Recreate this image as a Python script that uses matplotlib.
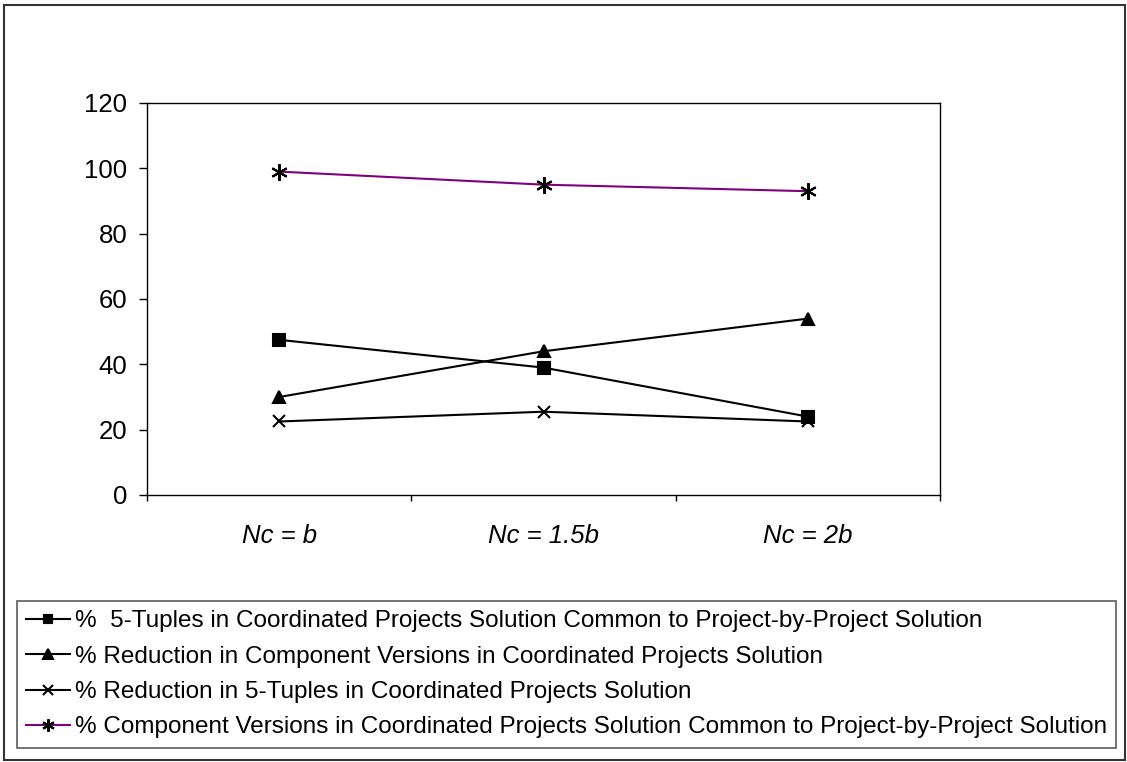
import matplotlib
matplotlib.use("Agg")
import matplotlib.pyplot as plt
from matplotlib.patches import Rectangle

plt.rcParams["font.family"] = ["Liberation Sans", "DejaVu Sans"]

# data
categories = ["Nc = b", "Nc = 1.5b", "Nc = 2b"]
pct_tuples_common = [47.5, 39, 24]
pct_reduction_versions = [30, 44, 54]
pct_reduction_tuples = [22.5, 25.5, 22.5]
pct_versions_common = [99, 95, 93]

labels = [
    "%  5-Tuples in Coordinated Projects Solution Common to Project-by-Project Solution",
    "% Reduction in Component Versions in Coordinated Projects Solution",
    "% Reduction in 5-Tuples in Coordinated Projects Solution",
    "% Component Versions in Coordinated Projects Solution Common to Project-by-Project Solution",
]
y_ticks = [0, 20, 40, 60, 80, 100, 120]

W, H = 1127, 762
fig = plt.figure(figsize=(W / 100, H / 100), dpi=100)
fig.patch.set_facecolor("white")

# outer chart frame
fig.add_artist(Rectangle((4 / W, 1 - 760 / H), 1121 / W, 755 / H,
                         transform=fig.transFigure, fill=False,
                         edgecolor="#333333", linewidth=1.5))

ax = fig.add_axes([147 / W, 1 - 495 / H, 793 / W, 392 / H])

x = list(range(len(categories)))
series = [
    (pct_tuples_common, "s", "black", 8),
    (pct_reduction_versions, "^", "black", 9),
    (pct_reduction_tuples, "x", "black", 9),
    (pct_versions_common, (6, 2, 0), "#800080", 12),
]
handles = []
for (vals, mk, col, ms), lab in zip(series, labels):
    h, = ax.plot(x, vals, color=col, linewidth=1.5, marker=mk,
                 markersize=ms, markerfacecolor="black",
                 markeredgecolor="black", markeredgewidth=1.5, label=lab)
    handles.append(h)

ax.set_xlim(-0.5, len(categories) - 0.5)
ax.set_ylim(0, 120)
ax.set_yticks(y_ticks)
ax.set_yticklabels([str(v) for v in y_ticks], fontsize=18.5)
ax.tick_params(axis="y", direction="out", length=5.8, width=1, pad=8.5)

# category boundaries as major ticks, labels centred on minor ticks
ax.set_xticks([i - 0.5 for i in range(len(categories) + 1)])
ax.set_xticklabels([])
ax.tick_params(axis="x", which="major", direction="out", length=4.3, width=1)
ax.set_xticks(x, minor=True)
ax.set_xticklabels(categories, minor=True, fontsize=18.5, style="italic")
ax.tick_params(axis="x", which="minor", length=0, pad=21)

for s in ax.spines.values():
    s.set_color("black")
    s.set_linewidth(1)

leg = fig.legend(handles=handles, loc="upper left",
                 bbox_to_anchor=(17 / W, 1 - 601 / H),
                 fontsize=17.5, frameon=True, fancybox=False,
                 edgecolor="#333333", handlelength=1.8, handletextpad=0.2,
                 labelspacing=0.55, borderaxespad=0, borderpad=0.38,
                 markerscale=0.75)
leg.get_frame().set_linewidth(1.2)

fig.savefig("out.png", dpi=100, facecolor="white")
